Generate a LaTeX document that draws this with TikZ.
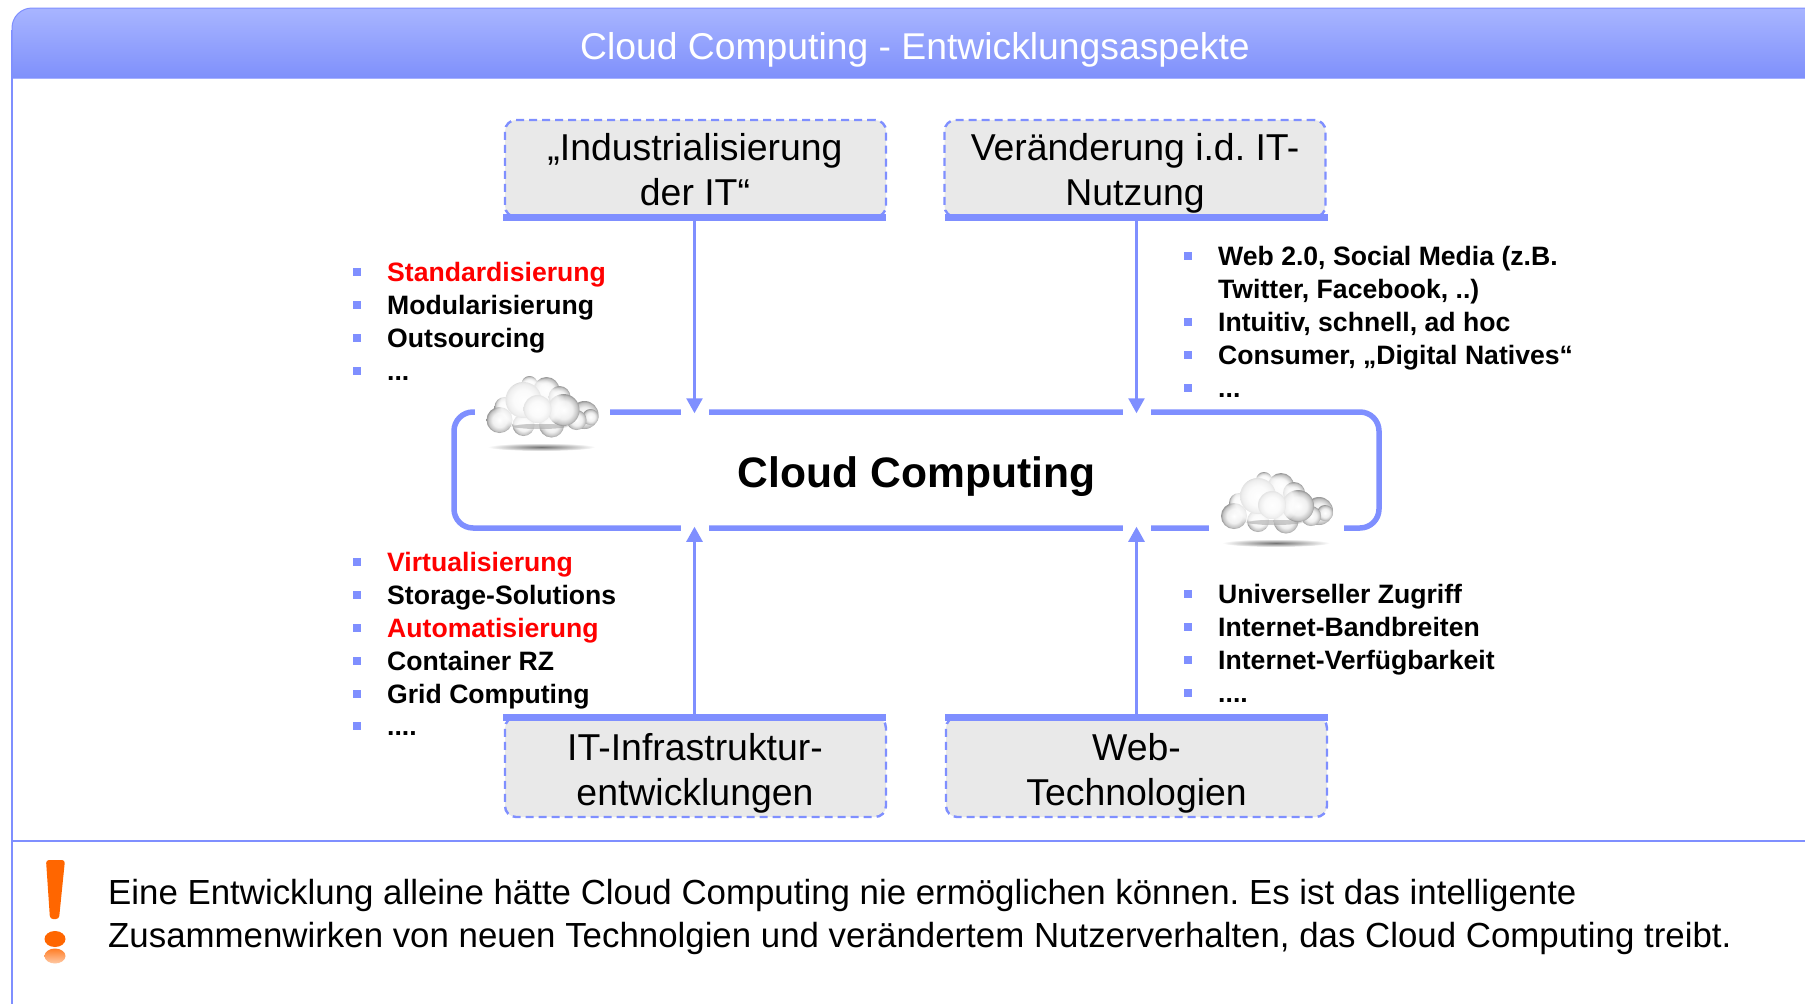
\documentclass[tikz,border=0pt]{standalone}
\usepackage{fontspec}
\setmainfont{Liberation Sans}
\usetikzlibrary{arrows.meta,fadings}
\definecolor{lineblue}{HTML}{7F8FFF}
\definecolor{titletop}{HTML}{A8B5FF}
\definecolor{titlebot}{HTML}{7F90FB}
\definecolor{boxgray}{HTML}{E9E9E9}
\definecolor{warnorange}{HTML}{FF6600}
\pgfdeclareradialshading{puffshade}{\pgfpointorigin}{color(0bp)=(white); color(14bp)=(white!94!black); color(22bp)=(white!76!black); color(25bp)=(white!58!black); color(50bp)=(white!58!black)}
\tikzset{
  px/.style={x=1pt,y=-1pt},
  topicbox/.style={draw=lineblue,fill=boxgray,dash pattern=on 8pt off 5pt,line width=2.4pt,rounded corners=11pt,
     minimum width=381pt,inner sep=0pt},
  boxlabel/.style={align=center,inner sep=0pt,font=\fontsize{37.4}{45}\selectfont},
  barnode/.style={fill=lineblue,draw=none,minimum width=383pt,minimum height=7pt,inner sep=0pt},
  bull/.style={fill=lineblue,draw=none,minimum size=8pt,inner sep=0pt},
  item/.style={anchor=base west,inner sep=0pt,font=\fontsize{26.6}{32}\selectfont\bfseries},
  conn/.style={draw=lineblue,line width=2.6pt,shorten >=-4pt,-{Triangle[length=15pt,width=16pt]}},
  note/.style={anchor=base west,inner sep=0pt,font=\fontsize{34.85}{43}\selectfont},
}
\newcommand{\bitem}[5]{%
  \node[bull] (#1b) at (#2-30,#3-9.5) {};
  \node[item,text=#4] (#1) at (#2,#3) {#5};
}
\newcommand{\drawcloud}[2]{%
  \begin{scope}[shift={(#1,#2)}]
    \shade[inner color=black!55,outer color=white] (0,40) ellipse [x radius=54,y radius=4];
    \foreach \x/\y/\r in {-12/-23/8,5/-17/13,18/-10/11,43/8/14,49/10/8,-37/0/10,-42/13/13,-18/18/11,10/18/12.5,35/13/10,22/3/16,-18/-7/18,-4/2/14}{
      \shade[shading=puffshade] (\x,\y) circle [radius=\r];
    }
    \fill[white,fill opacity=.75,path fading=circle with fuzzy edge 20 percent] (-12,-3) ellipse [x radius=36,y radius=28];
    \fill[black!40,fill opacity=.5,path fading=circle with fuzzy edge 20 percent] (-2,19) ellipse [x radius=30,y radius=3];
  \end{scope}
}
\begin{document}
\frenchspacing
\begin{tikzpicture}[px]
\clip (0,0) rectangle (1805,1004);
% frame and title band
\draw[draw=lineblue,line width=1.6pt] (12,30) -- (12,1015);
\draw[draw=lineblue,line width=1.6pt] (12,841) -- (1815,841);
\shade[top color=titletop,bottom color=titlebot,draw=lineblue,line width=1pt]
  (12,78) [rounded corners=20pt] -- (12,8) [sharp corners] -- (1815,8) -- (1815,78) -- cycle;
\node[text=white,font=\fontsize{37.3}{44}\selectfont,inner sep=0pt] (title) at (915,49.5) {Cloud Computing - Entwicklungsaspekte};
% topic boxes
\node[topicbox,minimum height=97pt] (b1) at (695.5,168.5) {};
\node[boxlabel] (b1t) at (695,173.5) {\strut„Industrialisierung\\\strut der IT“};
\node[barnode] (b1bar) at (694.5,217.5) {};
\node[topicbox,minimum height=97pt] (b2) at (1135,168.5) {};
\node[boxlabel] (b2t) at (1135,173.5) {\strut Veränderung i.d. IT-\\\strut Nutzung};
\node[barnode] (b2bar) at (1136.5,217.5) {};
\node[topicbox,minimum height=100pt] (b3) at (695.5,767) {};
\node[boxlabel] (b3t) at (695,774) {\strut IT-Infrastruktur-\\\strut entwicklungen};
\node[barnode] (b3bar) at (694.5,717.5) {};
\node[topicbox,minimum height=100pt] (b4) at (1136.5,767) {};
\node[boxlabel] (b4t) at (1136.5,774) {\strut Web-\\\strut Technologien};
\node[barnode] (b4bar) at (1136.5,717.5) {};
% central box
\node[draw=lineblue,line width=5.5pt,rounded corners=19pt,minimum width=925pt,minimum height=116pt,inner sep=0pt,text height=34pt,text depth=0pt,font=\fontsize{42.6}{50}\selectfont\bfseries] (cc) at (916.5,470) {Cloud Computing};
\fill[white] (475,404) rectangle (610,420);
\fill[white] (1209,520) rectangle (1344,536);
\fill[white] (681,404) rectangle (709,420);
\fill[white] (1123,404) rectangle (1151,420);
\fill[white] (681,520) rectangle (709,536);
\fill[white] (1123,520) rectangle (1151,536);
% clouds
\drawcloud{541.5}{407}
\drawcloud{1276}{503}
% connectors
\draw[conn] (b1bar.south) -- (b1bar.south |- cc.north);
\draw[conn] (b2bar.south) -- (b2bar.south |- cc.north);
\draw[conn] (b3bar.north) -- (b3bar.north |- cc.south);
\draw[conn] (b4bar.north) -- (b4bar.north |- cc.south);
% lists
\bitem{la}{387}{281}{red}{Standardisierung}
\bitem{lb}{387}{314}{black}{Modularisierung}
\bitem{lc}{387}{347}{black}{Outsourcing}
\bitem{ld}{387}{380}{black}{...}
\bitem{ra}{1218}{265}{black}{Web 2.0, Social Media (z.B.}
\node[item] (raa) at (1218,298) {Twitter, Facebook, ..)};
\bitem{rb}{1218}{331}{black}{Intuitiv, schnell, ad hoc}
\bitem{rc}{1218}{364}{black}{Consumer, „Digital Natives“}
\bitem{rd}{1218}{397}{black}{...}
\bitem{ma}{387}{571}{red}{Virtualisierung}
\bitem{mb}{387}{604}{black}{Storage-Solutions}
\bitem{mc}{387}{637}{red}{Automatisierung}
\bitem{md}{387}{670}{black}{Container RZ}
\bitem{me}{387}{703}{black}{Grid Computing}
\bitem{mf}{387}{735}{black}{....}
\bitem{na}{1218}{603}{black}{Universeller Zugriff}
\bitem{nb}{1218}{636}{black}{Internet-Bandbreiten}
\bitem{nc}{1218}{669}{black}{Internet-Verfügbarkeit}
\bitem{nd}{1218}{702}{black}{....}
% exclamation mark
\fill[warnorange,rounded corners=3pt] (46,860) -- (65,860) -- (59,919) -- (50,919) -- cycle;
\fill[warnorange] (55,939) ellipse [x radius=10.5,y radius=8];
\shade[top color=warnorange!85,bottom color=warnorange!35!white] (55,956) ellipse [x radius=10.5,y radius=7.5];
% note
\node[note] (n1) at (108,904) {Eine Entwicklung alleine hätte Cloud Computing nie ermöglichen können. Es ist das intelligente};
\node[note] (n2) at (108,947) {Zusammenwirken von neuen Technolgien und verändertem Nutzerverhalten, das Cloud Computing treibt.};
\end{tikzpicture}
\end{document}
